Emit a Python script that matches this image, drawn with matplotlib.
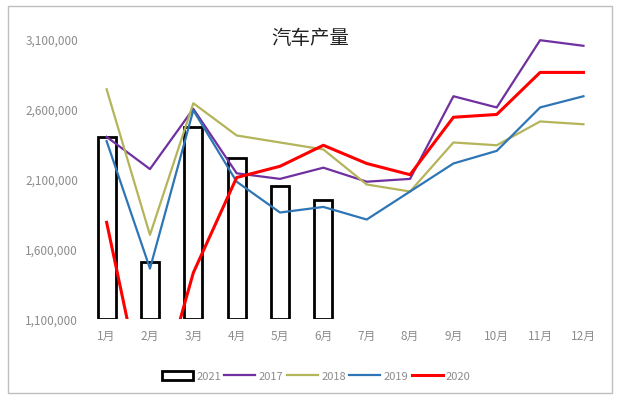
import matplotlib
matplotlib.use("Agg")
import matplotlib.pyplot as plt
from matplotlib.patches import Rectangle
from matplotlib.ticker import FuncFormatter

plt.rcParams['font.family'] = ['Noto Sans CJK SC', 'DejaVu Sans']

months = ['1月', '2月', '3月', '4月', '5月', '6月', '7月', '8月', '9月', '10月', '11月', '12月']

prod_2021 = [2.40, 1.51, 2.47, 2.25, 2.05, 1.95]
prod_2017 = [2.40, 2.17, 2.60, 2.14, 2.10, 2.18, 2.08, 2.10, 2.69, 2.61, 3.09, 3.05]
prod_2018 = [2.74, 1.70, 2.64, 2.41, 2.36, 2.31, 2.06, 2.01, 2.36, 2.34, 2.51, 2.49]
prod_2019 = [2.37, 1.46, 2.59, 2.08, 1.86, 1.90, 1.81, 2.01, 2.21, 2.30, 2.61, 2.69]
prod_2020 = [1.79, 0.33, 1.43, 2.11, 2.19, 2.34, 2.21, 2.13, 2.54, 2.56, 2.86, 2.86]

y_ticks = [1_100_000, 1_600_000, 2_100_000, 2_600_000, 3_100_000]

fig = plt.figure(figsize=(6.2, 4.02), dpi=100)
fig.patch.set_facecolor('white')

# outer frame
fig.add_artist(Rectangle((0.013, 0.02), 0.974, 0.962, transform=fig.transFigure,
                         fill=False, edgecolor='#bfbfbf', linewidth=1.0))

ax = fig.add_axes([0.137, 0.204, 0.839, 0.697])
x = list(range(len(months)))
ymin, ymax = y_ticks[0], y_ticks[-1]

def scale(vals):
    return [v * 1_000_000 for v in vals]

bars = ax.bar(x[:len(prod_2021)], [v - ymin for v in scale(prod_2021)], bottom=ymin,
              width=0.42, facecolor='white', edgecolor='black', linewidth=2.0,
              label='2021', zorder=2)
l17, = ax.plot(x, scale(prod_2017), color='#7030a0', linewidth=1.6, label='2017', zorder=3)
l18, = ax.plot(x, scale(prod_2018), color='#b4b45a', linewidth=1.6, label='2018', zorder=3)
l19, = ax.plot(x, scale(prod_2019), color='#2e75b6', linewidth=1.6, label='2019', zorder=3)
l20, = ax.plot(x, scale(prod_2020), color='#ff0000', linewidth=2.2, label='2020', zorder=4)

ax.set_xlim(-0.5, len(months) - 0.5)
ax.set_ylim(ymin, ymax)
ax.set_yticks(y_ticks)
ax.yaxis.set_major_formatter(FuncFormatter(lambda v, p: f'{int(v):,}'))
ax.set_xticks(x)
ax.set_xticklabels(months)
ax.tick_params(axis='both', length=0, labelsize=8.5, labelcolor='#8c8c8c')
ax.tick_params(axis='x', pad=7)
ax.tick_params(axis='y', pad=5)
for s in ax.spines.values():
    s.set_visible(False)

fig.text(0.5, 0.905, '汽车产量', ha='center', va='center', fontsize=14, color='#222222')

leg = fig.legend([bars, l17, l18, l19, l20], ['2021', '2017', '2018', '2019', '2020'],
                 loc='center', bbox_to_anchor=(0.51, 0.062), ncol=5, frameon=False,
                 fontsize=8, handlelength=2.8, handleheight=0.9,
                 columnspacing=0.3, handletextpad=0.3)
for t in leg.get_texts():
    t.set_color('#8c8c8c')

fig.savefig('out.png', dpi=100, facecolor='white')
